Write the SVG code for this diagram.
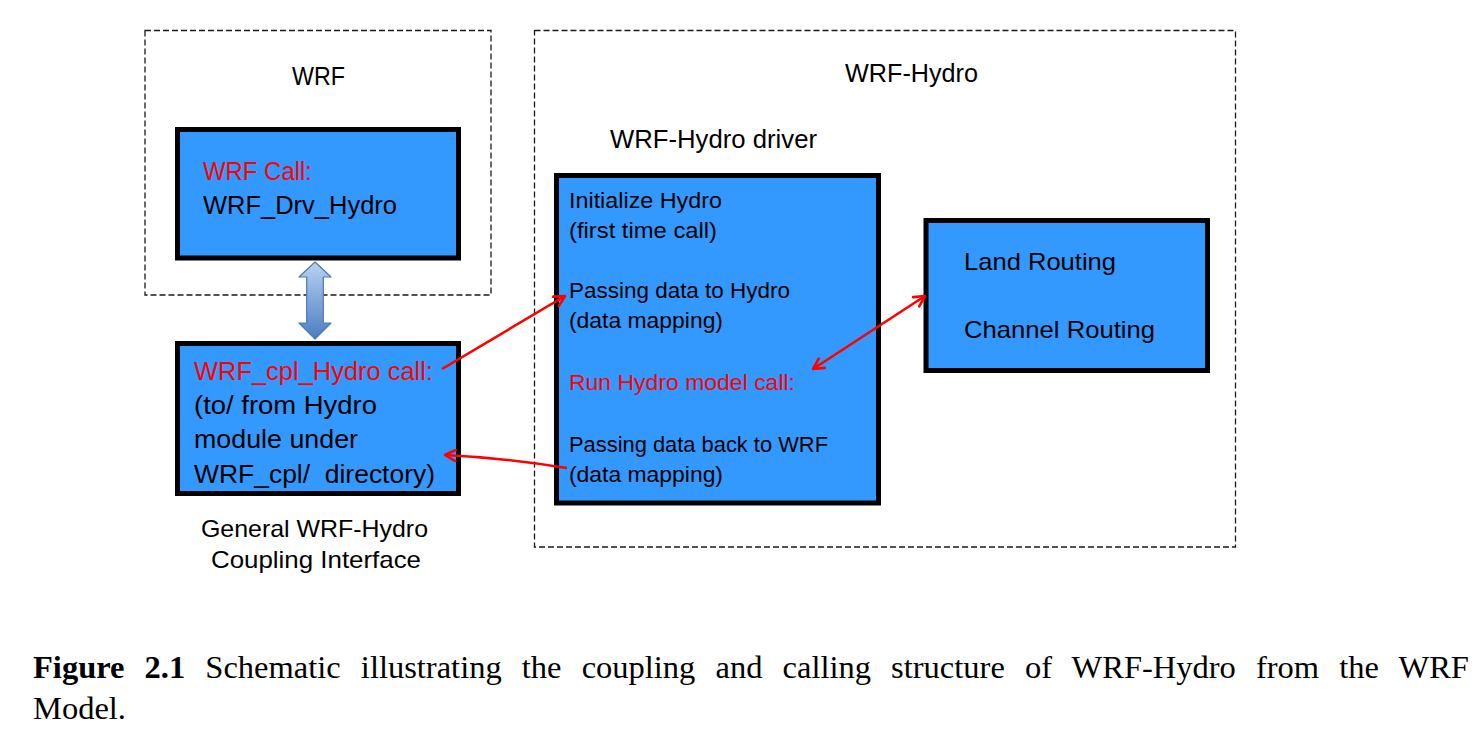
<svg xmlns="http://www.w3.org/2000/svg" width="1483" height="734" viewBox="0 0 1483 734">
<style>
.dash{fill:none;stroke:#1a1a1a;stroke-width:1.3;stroke-dasharray:6,3}
.box{fill:#3399ff;stroke:#000;stroke-width:5}
.t{font-family:"Liberation Sans",Arial,sans-serif;fill:#000}
.r{fill:#ff0000}
.red{fill:none;stroke:#ff0000;stroke-width:2.6}
.cap{font-family:"Liberation Serif","Times New Roman",serif;font-size:32.5px;fill:#000}
</style>
<defs>
<marker id="ah" viewBox="0 0 14 14" refX="12" refY="7" markerWidth="14" markerHeight="14" markerUnits="userSpaceOnUse" orient="auto-start-reverse">
<path d="M1.5,1.5 L12,7 L1.5,12.5" fill="none" stroke="#ff0000" stroke-width="2.6" stroke-linecap="round" stroke-linejoin="round"/>
</marker>
<linearGradient id="bg" x1="0" y1="0" x2="0" y2="1">
<stop offset="0" stop-color="#b9d2f2"/>
<stop offset="1" stop-color="#4a7dc2"/>
</linearGradient>
</defs>

<g id="wrf-group">
<rect class="dash" x="145" y="30.5" width="346" height="264.5"/>
<text class="t" x="292" y="85" font-size="25" textLength="53" lengthAdjust="spacingAndGlyphs">WRF</text>
</g>

<g id="wrf-hydro-group">
<rect class="dash" x="534.5" y="30.5" width="701" height="516.5"/>
<text class="t" x="845" y="82" font-size="25" textLength="133" lengthAdjust="spacingAndGlyphs">WRF-Hydro</text>
<text class="t" x="610" y="148" font-size="25" textLength="207" lengthAdjust="spacingAndGlyphs">WRF-Hydro driver</text>
</g>

<g id="wrf-call">
<rect class="box" x="177.5" y="129.5" width="281" height="128.5"/>
<text class="t r" x="203" y="180" font-size="25" textLength="109" lengthAdjust="spacingAndGlyphs">WRF Call:</text>
<text class="t" x="203" y="214" font-size="25" textLength="194" lengthAdjust="spacingAndGlyphs">WRF_Drv_Hydro</text>
</g>

<g id="wrf-cpl">
<rect class="box" x="177.5" y="343.5" width="281" height="150" stroke-width="5.5"/>
<text class="t r" x="194" y="380" font-size="25" textLength="239" lengthAdjust="spacingAndGlyphs">WRF_cpl_Hydro call:</text>
<text class="t" x="194" y="414" font-size="25" textLength="183" lengthAdjust="spacingAndGlyphs">(to/ from Hydro</text>
<text class="t" x="194" y="448" font-size="25" textLength="164" lengthAdjust="spacingAndGlyphs">module under</text>
<text class="t" x="194" y="483" font-size="25" textLength="241" lengthAdjust="spacingAndGlyphs" xml:space="preserve">WRF_cpl/  directory)</text>
</g>

<g id="interface-label">
<text class="t" x="201" y="537" font-size="24" textLength="227" lengthAdjust="spacingAndGlyphs">General WRF-Hydro</text>
<text class="t" x="211" y="568" font-size="24" textLength="210" lengthAdjust="spacingAndGlyphs">Coupling Interface</text>
</g>

<g id="driver">
<rect class="box" x="556.5" y="175.5" width="322" height="327.5"/>
<text class="t" x="569" y="208" font-size="22" textLength="153" lengthAdjust="spacingAndGlyphs">Initialize Hydro</text>
<text class="t" x="569" y="238" font-size="22" textLength="148" lengthAdjust="spacingAndGlyphs">(first time call)</text>
<text class="t" x="569" y="298" font-size="22" textLength="221" lengthAdjust="spacingAndGlyphs">Passing data to Hydro</text>
<text class="t" x="569" y="328" font-size="22" textLength="154" lengthAdjust="spacingAndGlyphs">(data mapping)</text>
<text class="t r" x="569" y="390" font-size="22" textLength="226" lengthAdjust="spacingAndGlyphs">Run Hydro model call:</text>
<text class="t" x="569" y="452" font-size="22" textLength="259" lengthAdjust="spacingAndGlyphs">Passing data back to WRF</text>
<text class="t" x="569" y="482" font-size="22" textLength="154" lengthAdjust="spacingAndGlyphs">(data mapping)</text>
</g>

<g id="routing">
<rect class="box" x="926" y="220.5" width="281.5" height="150" stroke-width="4.5"/>
<text class="t" x="964" y="270" font-size="24" textLength="152" lengthAdjust="spacingAndGlyphs">Land Routing</text>
<text class="t" x="964" y="338" font-size="24" textLength="191" lengthAdjust="spacingAndGlyphs">Channel Routing</text>
</g>

<g id="connectors">
<polygon points="315,262 331,277 323.3,277 323.3,323 331,323 315,339 299,323 306.7,323 306.7,277 299,277" fill="url(#bg)" stroke="#4a78b8" stroke-width="1.2" stroke-linejoin="round"/>
<line class="red" x1="442" y1="369" x2="565" y2="296" marker-end="url(#ah)"/>
<path class="red" d="M567,468 Q506,458 445,455" marker-end="url(#ah)"/>
<line class="red" x1="813" y1="369" x2="925" y2="296" marker-start="url(#ah)" marker-end="url(#ah)"/>
</g>

<g id="caption">
<text class="cap" x="33" y="678" word-spacing="12"><tspan font-weight="bold">Figure 2.1</tspan> Schematic illustrating the coupling and calling structure of WRF-Hydro from the WRF</text>
<text class="cap" x="33" y="719">Model.</text>
</g>
</svg>
